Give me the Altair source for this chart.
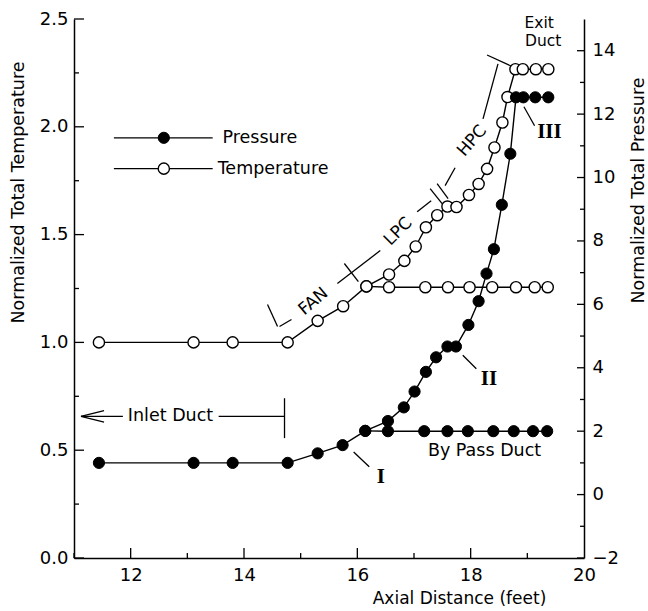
import altair as alt
import pandas as pd

# ---------------- data ----------------
# Normalized total temperature, main flow path (open circles)
temp_x = [11.44, 13.11, 13.80, 14.77, 15.30, 15.75, 16.16, 16.56, 16.83, 17.03, 17.21, 17.41,
          17.59, 17.75, 17.97, 18.14, 18.29, 18.42, 18.56, 18.65, 18.79, 18.92, 19.15, 19.37]
temp_y = [1.0, 1.0, 1.0, 1.0, 1.10, 1.168, 1.26, 1.315, 1.378, 1.445, 1.534, 1.59,
          1.63, 1.628, 1.684, 1.735, 1.805, 1.904, 2.02, 2.138, 2.267, 2.267, 2.267, 2.267]
# temperature, by-pass duct branch
temp_bp_x = [16.16, 16.56, 17.20, 17.60, 17.98, 18.38, 18.80, 19.13, 19.36]
temp_bp_y = [1.26, 1.256, 1.256, 1.256, 1.256, 1.256, 1.256, 1.256, 1.256]

# Normalized total pressure, main flow path (filled circles)
press_x = [11.44, 13.11, 13.80, 14.77, 15.30, 15.74, 16.14, 16.54, 16.82, 17.01, 17.21, 17.39,
           17.59, 17.74, 17.96, 18.14, 18.28, 18.41, 18.55, 18.70, 18.80, 18.93, 19.14, 19.37]
press_y = [1.0, 1.0, 1.0, 1.0, 1.30, 1.56, 2.01, 2.32, 2.75, 3.25, 3.87, 4.33,
           4.67, 4.67, 5.35, 6.10, 6.97, 7.74, 9.14, 10.75, 12.53, 12.53, 12.53, 12.53]
# pressure, by-pass duct branch
press_bp_x = [16.14, 16.54, 17.18, 17.59, 17.95, 18.40, 18.76, 19.10, 19.35]
press_bp_y = [2.01, 2.0, 2.0, 2.0, 2.0, 2.0, 2.0, 2.0, 2.0]

# axis ticks
x_major = [12, 14, 16, 18, 20]
x_minor = [11, 13, 15, 17, 19]
t_major = [0.0, 0.5, 1.0, 1.5, 2.0, 2.5]
t_minor = [0.25, 0.75, 1.25, 1.75, 2.25]
p_major = [-2, 0, 2, 4, 6, 8, 10, 12, 14]
p_minor = [-1, 1, 3, 5, 7, 9, 11, 13]

# annotation segments in (axial distance, normalized temperature) units
seg_x1 = [11.123, 11.123, 11.123, 13.553, 14.715, 15.935, 17.861, 18.94,
          14.415, 14.627, 15.648, 15.771, 17.056, 17.285, 17.408, 17.549, 18.218, 18.289,
          11.704, 11.704]
seg_y1 = [0.657, 0.657, 0.657, 0.657, 0.741, 0.492, 0.940, 2.093,
          1.176, 1.074, 1.273, 1.366, 1.606, 1.713, 1.736, 1.727, 2.037, 2.333,
          1.949, 1.806]
seg_x2 = [11.863, 11.53, 11.53, 14.715, 14.715, 16.21, 18.10, 19.128,
          14.592, 14.838, 16.405, 16.018, 17.303, 17.496, 17.602, 17.725, 18.482, 18.711,
          13.447, 13.447]
seg_y2 = [0.657, 0.684, 0.630, 0.657, 0.556, 0.423, 0.878, 2.005,
          1.074, 1.106, 1.426, 1.282, 1.657, 1.644, 1.667, 1.810, 2.292, 2.282,
          1.949, 1.806]

# sans-serif labels
lab_text = ["Inlet Duct", "By Pass Duct", "Exit", "Duct", "FAN", "LPC", "HPC", "Pressure", "Temperature"]
lab_x = [11.95, 18.245, 19.21, 19.28, 15.225, 16.722, 18.025, 13.62, 13.535]
lab_y = [0.657, 0.495, 2.481, 2.396, 1.19, 1.514, 1.935, 1.949, 1.806]
lab_angle = [0, 0, 0, 0, 320, 315, 311, 0, 0]
lab_size = [17.5, 17.5, 15.5, 15.5, 17, 17, 17, 17.5, 17.5]
lab_align = ["left", "center", "center", "center", "center", "center", "center", "left", "left"]

# roman numeral labels
rom_text = ["I", "II", "III"]
rom_x = [16.417, 18.324, 19.39]
rom_y = [0.376, 0.832, 1.977]

# legend markers
leg_x = [12.585, 12.585]
leg_y = [1.949, 1.806]
leg_kind = ["Pressure", "Temperature"]

# ---------------- tables ----------------
df_t = pd.DataFrame({"x": temp_x, "y": temp_y, "i": range(len(temp_x))})
df_tb = pd.DataFrame({"x": temp_bp_x, "y": temp_bp_y, "i": range(len(temp_bp_x))})
df_p = pd.DataFrame({"x": press_x, "y": press_y, "i": range(len(press_x))})
df_pb = pd.DataFrame({"x": press_bp_x, "y": press_bp_y, "i": range(len(press_bp_x))})
df_seg = pd.DataFrame({"x": seg_x1, "y": seg_y1, "x2": seg_x2, "y2": seg_y2})
df_lab = pd.DataFrame({"x": lab_x, "y": lab_y, "t": lab_text, "a": lab_angle,
                       "s": lab_size, "al": lab_align})
df_rom = pd.DataFrame({"x": rom_x, "y": rom_y, "t": rom_text})
df_leg = pd.DataFrame({"x": leg_x, "y": leg_y, "k": leg_kind})
dummy = pd.DataFrame({"x": [15.0], "y": [1.0]})

W, H = 510, 539
FONT = "DejaVu Sans"


def xenc(axis=None):
    return alt.X("x:Q", scale=alt.Scale(domain=[11, 20], nice=False, zero=False), axis=axis)


def yT(axis=None):
    return alt.Y("y:Q", scale=alt.Scale(domain=[0, 2.5], nice=False, zero=False), axis=axis)


def yP(axis=None):
    return alt.Y("y:Q", scale=alt.Scale(domain=[-2, 15], nice=False, zero=False), axis=axis)


base_axis = dict(grid=False, labelFont=FONT, labelFontSize=18, labelColor="black",
                 domainColor="black", domainWidth=1.5, ticks=False, tickSize=0,
                 labelFlush=False, labelOverlap=False)

# ---------------- axis layers (labels, titles, axis lines) ----------------
ax_left = alt.Chart(dummy).mark_point(opacity=0).encode(
    x=xenc(), y=yT(alt.Axis(orient="left", values=t_major, format=".1f", labelPadding=6,
                            title="Normalized Total Temperature", titleFont=FONT, titleFontSize=17.5,
                            titleFontWeight="normal", titleColor="black", titleX=-56, titleY=173,
                            titleAngle=270, titleAlign="center", titleBaseline="middle", **base_axis)))
ax_right = alt.Chart(dummy).mark_point(opacity=0).encode(
    x=xenc(), y=yP(alt.Axis(orient="right", values=p_major, labelPadding=8,
                            title="Normalized Total Pressure", titleFont=FONT, titleFontSize=17.5,
                            titleFontWeight="normal", titleColor="black", titleX=54, titleY=171,
                            titleAngle=270, titleAlign="center", titleBaseline="middle", **base_axis)))
ax_bottom = alt.Chart(dummy).mark_point(opacity=0).encode(
    x=xenc(alt.Axis(orient="bottom", values=x_major, labelPadding=8,
                    title="Axial Distance (feet)", titleFont=FONT, titleFontSize=17,
                    titleFontWeight="normal", titleColor="black", titleX=385, titleY=40,
                    titleAlign="center", titleBaseline="middle", **base_axis)),
    y=yT())

# ---------------- inward tick marks ----------------
TW = 1.3
df_tmaj = pd.DataFrame({"y": t_major})
df_tmin = pd.DataFrame({"y": t_minor})
df_pmaj = pd.DataFrame({"y": p_major})
df_pmin = pd.DataFrame({"y": p_minor})
df_xmaj = pd.DataFrame({"x": x_major[:-1]})
df_xmin = pd.DataFrame({"x": x_minor})

tk_tmaj = alt.Chart(df_tmaj).mark_rule(color="black", strokeWidth=TW).encode(
    y=yT(), x=alt.value(0), x2=alt.value(10))
tk_tmin = alt.Chart(df_tmin).mark_rule(color="black", strokeWidth=TW).encode(
    y=yT(), x=alt.value(0), x2=alt.value(5))
tk_pmaj = alt.Chart(df_pmaj).mark_rule(color="black", strokeWidth=TW).encode(
    y=yP(), x=alt.value(W - 7), x2=alt.value(W))
tk_pmin = alt.Chart(df_pmin).mark_rule(color="black", strokeWidth=TW).encode(
    y=yP(), x=alt.value(W - 4), x2=alt.value(W))
tk_xmaj = alt.Chart(df_xmaj).mark_rule(color="black", strokeWidth=TW).encode(
    x=xenc(), y=alt.value(H - 10), y2=alt.value(H))
tk_xmin = alt.Chart(df_xmin).mark_rule(color="black", strokeWidth=TW).encode(
    x=xenc(), y=alt.value(H - 5), y2=alt.value(H))

# ---------------- data layers ----------------
LW = 1.4
l_t = alt.Chart(df_t).mark_line(color="black", strokeWidth=LW).encode(x=xenc(), y=yT(), order="i:Q")
l_tb = alt.Chart(df_tb).mark_line(color="black", strokeWidth=LW).encode(x=xenc(), y=yT(), order="i:Q")
l_p = alt.Chart(df_p).mark_line(color="black", strokeWidth=LW).encode(x=xenc(), y=yP(), order="i:Q")
l_pb = alt.Chart(df_pb).mark_line(color="black", strokeWidth=LW).encode(x=xenc(), y=yP(), order="i:Q")

open_pt = dict(shape="circle", filled=True, fill="white", stroke="black", strokeWidth=1.4,
               size=125, opacity=1)
full_pt = dict(shape="circle", filled=True, fill="black", stroke="black", strokeWidth=1,
               size=125, opacity=1)
p_t = alt.Chart(df_t).mark_point(**open_pt).encode(x=xenc(), y=yT())
p_tb = alt.Chart(df_tb).mark_point(**open_pt).encode(x=xenc(), y=yT())
p_p = alt.Chart(df_p).mark_point(**full_pt).encode(x=xenc(), y=yP())
p_pb = alt.Chart(df_pb).mark_point(**full_pt).encode(x=xenc(), y=yP())

# ---------------- annotations ----------------
segs = alt.Chart(df_seg).mark_rule(color="black", strokeWidth=1.3).encode(
    x=xenc(), x2="x2:Q", y=yT(), y2="y2:Q")

labs_left = alt.Chart(df_lab[df_lab.al == "left"]).mark_text(
    font=FONT, color="black", align="left", baseline="middle").encode(
    x=xenc(), y=yT(), text="t:N", size=alt.Size("s:Q", scale=None))
labs_center = alt.Chart(df_lab[df_lab.al == "center"]).mark_text(
    font=FONT, color="black", align="center", baseline="middle").encode(
    x=xenc(), y=yT(), text="t:N", angle=alt.Angle("a:Q", scale=None),
    size=alt.Size("s:Q", scale=None))
roms = alt.Chart(df_rom).mark_text(
    font="Liberation Serif", fontSize=21, fontWeight="bold", color="black",
    align="center", baseline="middle").encode(x=xenc(), y=yT(), text="t:N")

leg_p = alt.Chart(df_leg[df_leg.k == "Pressure"]).mark_point(**full_pt).encode(x=xenc(), y=yT())
leg_t = alt.Chart(df_leg[df_leg.k == "Temperature"]).mark_point(**open_pt).encode(x=xenc(), y=yT())

chart = alt.layer(
    ax_left, ax_right, ax_bottom,
    tk_tmaj, tk_tmin, tk_pmaj, tk_pmin, tk_xmaj, tk_xmin,
    segs,
    l_t, l_tb, l_p, l_pb,
    p_t, p_tb, p_p, p_pb,
    leg_p, leg_t,
    labs_left, labs_center, roms,
).resolve_scale(
    x="independent", y="independent"
).properties(
    width=W, height=H,
    padding={"left": 74, "top": 19, "right": 64, "bottom": 53},
    autosize=alt.AutoSizeParams(type="none"),
    background="white",
).configure_view(strokeWidth=0)

chart.save("out.html", embed_options={"renderer": "svg", "actions": False})
